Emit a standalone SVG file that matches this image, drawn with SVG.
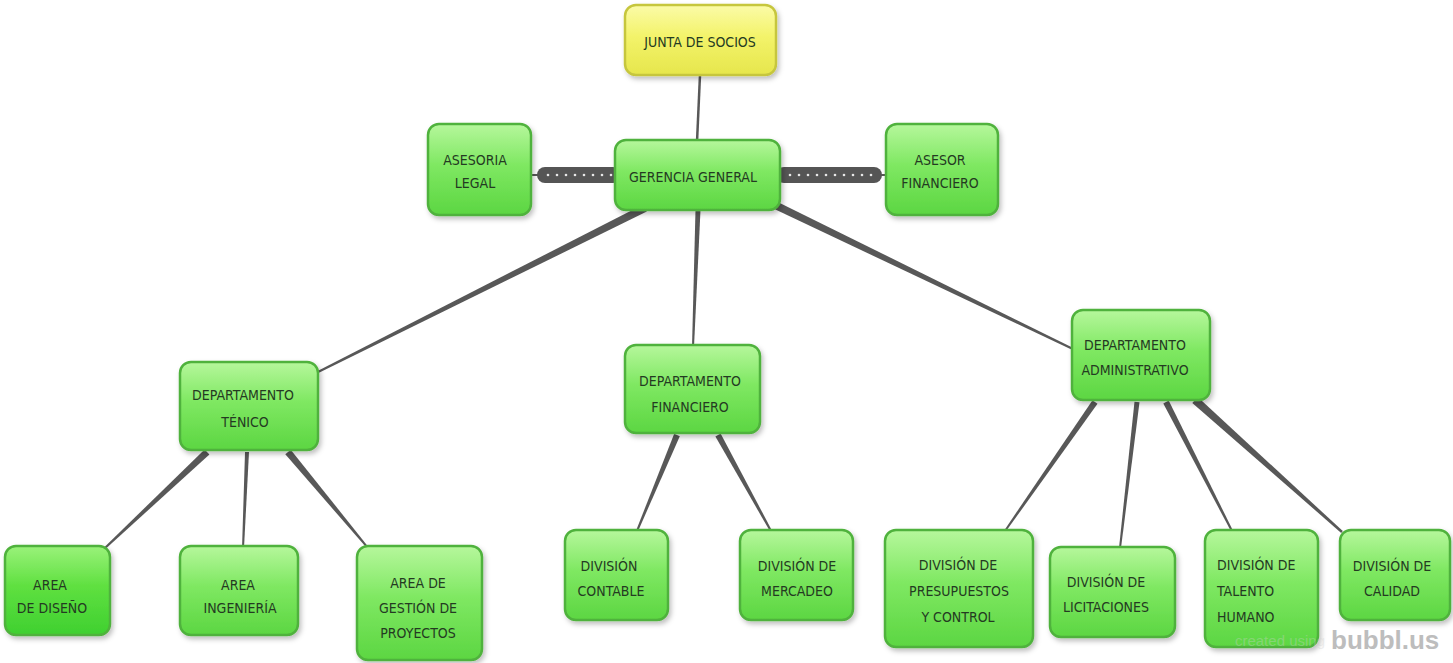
<svg xmlns="http://www.w3.org/2000/svg" width="1453" height="663" viewBox="0 0 1453 663">
<defs>
  <linearGradient id="gG" x1="0" y1="0" x2="0" y2="1">
    <stop offset="0" stop-color="#b6f79c"/>
    <stop offset="0.45" stop-color="#7fe862"/>
    <stop offset="1" stop-color="#5cd642"/>
  </linearGradient>
  <linearGradient id="gG2" x1="0" y1="0" x2="0" y2="1">
    <stop offset="0" stop-color="#9af27a"/>
    <stop offset="0.45" stop-color="#5fe040"/>
    <stop offset="1" stop-color="#3fd030"/>
  </linearGradient>
  <linearGradient id="gY" x1="0" y1="0" x2="0" y2="1">
    <stop offset="0" stop-color="#fbfba8"/>
    <stop offset="0.45" stop-color="#f3f36a"/>
    <stop offset="1" stop-color="#e6e64c"/>
  </linearGradient>
  <filter id="sh" x="-10%" y="-10%" width="130%" height="130%">
    <feDropShadow dx="2" dy="3" stdDeviation="2.5" flood-color="#000" flood-opacity="0.25"/>
  </filter>
</defs>
<style>
  .g { fill: url(#gG); stroke: #4fb23c; stroke-width: 2.5; filter: url(#sh); }
  .y { fill: url(#gY); stroke: #c6c63e; stroke-width: 2.5; filter: url(#sh); }
  .t { font-family: "Liberation Sans Narrow", "DejaVu Sans Condensed", "Liberation Sans", sans-serif; font-size: 14px; fill: #243a22; text-anchor: middle; }
  .tl { text-anchor: start; }
  .c { fill: #585858; }
  .bar { fill: #555; }
  .dot { fill: #e8e8e8; }
</style>
<rect width="1453" height="663" fill="#ffffff"/>

<g id="connectors">
  <line x1="700" y1="75" x2="697" y2="142" stroke="#585858" stroke-width="2.5"/>
  <line x1="530" y1="175" x2="540" y2="175" stroke="#585858" stroke-width="2"/>
  <rect class="bar" x="537" y="167" width="84" height="16" rx="8"/>
  <g class="dot">
    <circle cx="548" cy="175" r="1.3"/><circle cx="557" cy="175" r="1.3"/><circle cx="566" cy="175" r="1.3"/><circle cx="575" cy="175" r="1.3"/><circle cx="584" cy="175" r="1.3"/><circle cx="593" cy="175" r="1.3"/><circle cx="602" cy="175" r="1.3"/><circle cx="611" cy="175" r="1.3"/>
  </g>
  <line x1="878" y1="175" x2="888" y2="175" stroke="#585858" stroke-width="2"/>
  <rect class="bar" x="776" y="167" width="106" height="16" rx="8"/>
  <g class="dot">
    <circle cx="790" cy="175" r="1.3"/><circle cx="799" cy="175" r="1.3"/><circle cx="808" cy="175" r="1.3"/><circle cx="817" cy="175" r="1.3"/><circle cx="826" cy="175" r="1.3"/><circle cx="835" cy="175" r="1.3"/><circle cx="844" cy="175" r="1.3"/><circle cx="853" cy="175" r="1.3"/><circle cx="862" cy="175" r="1.3"/><circle cx="871" cy="175" r="1.3"/>
  </g>
  <polygon class="c" points="643.2,204.4 646.8,211.6 318.45,372.9 317.55,371.1"/>
  <polygon class="c" points="695.5,209.9 700.5,210.1 694,347 692,347"/>
  <polygon class="c" points="773.3,208.6 776.7,201.4 1075.4,349.1 1074.6,350.9"/>
  <polygon class="c" points="204.6,449.45 209.4,454.55 105.7,548.7 104.3,547.3"/>
  <polygon class="c" points="245,452 249,452 244,548 242,548"/>
  <polygon class="c" points="285.3,454.2 290.7,449.8 368.8,547.4 367.2,548.6"/>
  <polygon class="c" points="674.2,433.85 679.8,436.15 637.9,531.4 636.1,530.6"/>
  <polygon class="c" points="715.4,436.45 720.6,433.55 771.9,530.5 770.1,531.5"/>
  <polygon class="c" points="1092.5,400.3 1097.5,403.7 1005.8,531.6 1004.2,530.4"/>
  <polygon class="c" points="1134.5,401.7 1139.5,402.3 1121,548 1119,548"/>
  <polygon class="c" points="1163.3,403.4 1168.7,400.6 1232.9,530.5 1231.1,531.5"/>
  <polygon class="c" points="1192.3,403 1197.7,397 1342.8,531.1 1341.2,532.9"/>
</g>

<g id="junta">
  <rect class="y" x="625" y="5" width="151" height="70" rx="11"/>
  <text class="t" x="700" y="47">JUNTA DE SOCIOS</text>
</g>
<g id="gerencia">
  <rect class="g" x="615" y="140" width="165" height="70" rx="11"/>
  <text class="t" x="693" y="182">GERENCIA GENERAL</text>
</g>
<g id="asesoria">
  <rect class="g" x="428" y="124" width="103" height="91" rx="11"/>
  <text class="t" x="475" y="165">ASESORIA</text>
  <text class="t" x="475" y="188">LEGAL</text>
</g>
<g id="asesor">
  <rect class="g" x="886" y="124" width="112" height="91" rx="11"/>
  <text class="t" x="940" y="165">ASESOR</text>
  <text class="t" x="940" y="188">FINANCIERO</text>
</g>
<g id="dep-tecnico">
  <rect class="g" x="180" y="362" width="138" height="88" rx="11"/>
  <text class="t" x="243" y="400">DEPARTAMENTO</text>
  <text class="t" x="245" y="427">TÉNICO</text>
</g>
<g id="dep-financiero">
  <rect class="g" x="625" y="345" width="135" height="88" rx="11"/>
  <text class="t" x="690" y="386">DEPARTAMENTO</text>
  <text class="t" x="690" y="412">FINANCIERO</text>
</g>
<g id="dep-administrativo">
  <rect class="g" x="1072" y="310" width="138" height="90" rx="11"/>
  <text class="t" x="1135" y="350">DEPARTAMENTO</text>
  <text class="t" x="1135" y="375">ADMINISTRATIVO</text>
</g>
<g id="area-diseno">
  <rect class="g" x="5" y="546" width="105" height="89" rx="11" style="fill:url(#gG2)"/>
  <text class="t" x="50" y="590">AREA</text>
  <text class="t" x="52" y="613">DE DISEÑO</text>
</g>
<g id="area-ingenieria">
  <rect class="g" x="180" y="546" width="118" height="89" rx="11"/>
  <text class="t" x="238" y="590">AREA</text>
  <text class="t" x="240" y="613">INGENIERÍA</text>
</g>
<g id="area-gestion">
  <rect class="g" x="357" y="546" width="125" height="114" rx="11"/>
  <text class="t" x="418" y="588">AREA DE</text>
  <text class="t" x="418" y="613">GESTIÓN DE</text>
  <text class="t" x="418" y="638">PROYECTOS</text>
</g>
<g id="div-contable">
  <rect class="g" x="565" y="530" width="103" height="90" rx="11"/>
  <text class="t" x="609" y="571">DIVISIÓN</text>
  <text class="t" x="611" y="596">CONTABLE</text>
</g>
<g id="div-mercadeo">
  <rect class="g" x="740" y="530" width="113" height="90" rx="11"/>
  <text class="t" x="797" y="571">DIVISIÓN DE</text>
  <text class="t" x="797" y="596">MERCADEO</text>
</g>
<g id="div-presupuestos">
  <rect class="g" x="885" y="530" width="148" height="117" rx="11"/>
  <text class="t" x="958" y="570">DIVISIÓN DE</text>
  <text class="t" x="959" y="596">PRESUPUESTOS</text>
  <text class="t" x="958" y="622">Y CONTROL</text>
</g>
<g id="div-licitaciones">
  <rect class="g" x="1050" y="547" width="125" height="90" rx="11"/>
  <text class="t" x="1106" y="587">DIVISIÓN DE</text>
  <text class="t" x="1106" y="612">LICITACIONES</text>
</g>
<g id="div-talento">
  <rect class="g" x="1205" y="530" width="113" height="117" rx="11"/>
  <text class="t tl" x="1217" y="570">DIVISIÓN DE</text>
  <text class="t tl" x="1217" y="596">TALENTO</text>
  <text class="t tl" x="1217" y="622">HUMANO</text>
</g>
<g id="div-calidad">
  <rect class="g" x="1340" y="530" width="110" height="90" rx="11"/>
  <text class="t" x="1392" y="571">DIVISIÓN DE</text>
  <text class="t" x="1392" y="596">CALIDAD</text>
</g>

<g id="watermark">
  <text x="1325" y="646" font-family="Liberation Sans, sans-serif" font-size="15" fill="#d0d0d0" fill-opacity="0.35" text-anchor="end">created using</text>
  <text x="1331" y="649" font-family="Liberation Sans, sans-serif" font-size="26" font-weight="bold" fill="#bdbdbd">bubbl.us</text>
</g>
</svg>
